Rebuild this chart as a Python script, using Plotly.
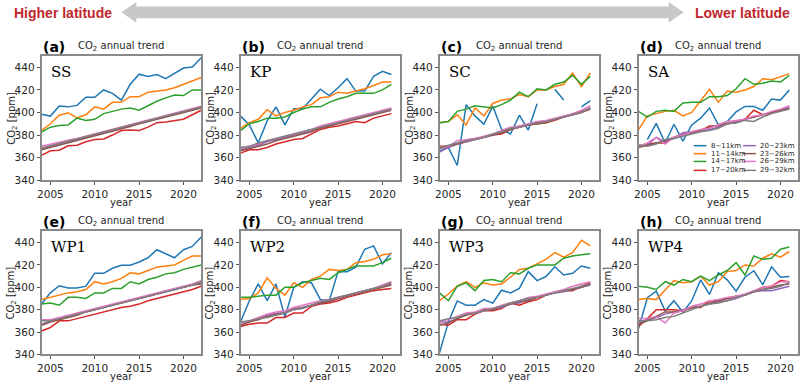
import plotly.graph_objects as go

W, H = 800, 387

# ---------------- data ----------------
years_long = [2004, 2005, 2006, 2007, 2008, 2009, 2010, 2011, 2012, 2013,
              2014, 2015, 2016, 2017, 2018, 2019, 2020, 2021, 2022]
years_short = [2004, 2005, 2006, 2007, 2008, 2009, 2010, 2011, 2012, 2013,
               2014, 2015, 2016, 2017, 2018, 2019, 2020, 2021]

layers = ["8~11km", "11~14km", "14~17km", "17~20km",
          "20~23km", "23~26km", "26~29km", "29~32km"]
colors = ["#1f77b4", "#ff7f0e", "#2ca02c", "#d62728",
          "#9467bd", "#8c564b", "#e377c2", "#7f7f7f"]
panel_tags = ["(a)", "(b)", "(c)", "(d)", "(e)", "(f)", "(g)", "(h)"]
regions = ["SS", "KP", "SC", "SA", "WP1", "WP2", "WP3", "WP4"]
x_ticks = [2005, 2010, 2015, 2020]
y_ticks = [340, 360, 380, 400, 420, 440]

ss_vals = [
    [398.5, 396.8, 405.7, 405, 406.3, 413.5, 413.5, 420, 417, 411, 425, 434, 432, 433.7, 430, 435, 439.4, 440.3, 448.6],
    [384, 390, 397.6, 399.7, 395.3, 398, 405, 403, 409, 409, 414, 414, 418, 419, 420, 422, 425, 428, 431],
    [382.6, 387, 388.4, 389, 395, 393, 394, 399, 401, 403, 404, 402, 406, 410, 413, 415.5, 415, 420, 420],
    [362, 366, 366.5, 370.5, 371, 374, 376, 376.5, 380, 384, 384.5, 384, 387, 391, 391.5, 393, 394, 398, 402],
    [368, 370, 372, 374, 376, 378, 380, 382, 384, 386, 388, 390.5, 392, 394, 396, 398.5, 400.5, 402.5, 404.5],
    [367, 369, 371.5, 373.5, 375.5, 377.5, 379.5, 381.5, 383.5, 385.5, 387.5, 390, 392, 394, 395.5, 398, 400, 402, 404],
    [370, 372, 374, 375.5, 377, 379, 381, 383, 385, 387, 389, 391.5, 393, 395, 397, 399, 401, 403, 405.5],
    [368.5, 370.5, 372.5, 374.5, 376.5, 378.5, 380.5, 382.5, 384.5, 386.5, 388.5, 391, 392.5, 394.5, 396.5, 398.5, 400.5, 403, 405],
]
kp_vals = [
    [396.8, 389, 373, 392.5, 405, 389, 403.4, 403.4, 412, 420.7, 415, 422, 430, 419, 419, 432, 436.5, 433.7],
    [386, 391, 394, 402.5, 397, 400, 402, 405, 407, 413, 414, 418, 417, 419, 421, 424, 427, 427],
    [384, 390, 392, 395, 395, 396, 400, 403, 405, 405, 409, 412, 414, 417, 417, 417, 420, 425],
    [364, 367, 367, 369, 372, 374, 376, 377, 381, 385, 387, 388, 390, 392, 391, 395, 397, 399],
    [367, 369, 371, 374, 376, 378, 380, 382, 384, 387, 389, 391, 393, 395, 397, 399, 401, 403],
    [366, 368, 370, 372, 375, 377, 379, 381, 383, 386, 388, 390, 392, 394, 396, 398, 400, 402],
    [368, 370, 372, 375, 377, 379, 381, 383, 385, 388, 390, 392, 394, 396, 398, 400, 402, 404],
    [369, 370, 373, 375, 377, 379, 381, 383, 385, 387, 389, 391, 393, 395, 397, 399, 401, 403],
]
sc_vals = [
    [366, 369, 353, 407, 397, 389.6, 405.7, 385, 381, 397.6, 384.4, 407.7, None, 420.7, 411, None, 405, 410.6],
    [391, 392, 398, 389, 404, 397, 408, 411, 412, 416, 414, 420, 420, 423, 425, 435, 423, 435],
    [391, 392, 401, 403, 406, 405, 404, 407, 411, 418, 414, 421, 420, 425, 427, 433, 425, 432],
    [370, 370, 372, 374, 376, 378, 380, 381, 385, 387, 389, 390, 391, 393, 396, 398, 400, 403],
    [365, 369, 372, 374, 376, 378, 380, 383, 385, 387, 389, 391, 392, 394, 396, 398, 401, 404],
    [368, 370, 372, 375, 377, 378, 380, 382, 385, 388, 389, 390, 391, 394, 396, 399, 401, 403],
    [369, 370, 375, 376, 377, 379, 381, 384, 387, 388, 390, 392, 393, 395, 397, 399, 402, 406],
    [369, 371, 373, 375, 376, 378, 381, 383, 386, 387, 389, 391, 392, 394, 396, 398, 400, 404],
]
sa_vals = [
    [None, 376, 390.4, 373, 389.6, 374.6, 389, 395, 404, 389, 392, 400.5, 405.4, 405.4, 402, 412, 411, 420],
    [384.7, 397, 399, 401, 402, 397, 400, 410, 420.5, 409, 419, 418, 420, 423, 430, 429, 432, 434.5],
    [401, 396, 401, 402, 401, 408.5, 409, 409, 414, 414, 415, 421, 430, 425, 426, 428, 427, 433],
    [370, 372, 373, 373, 378, 381, 382, 384, 388, 388, 390, 392, 394, 402, 398, 400, 402, 404],
    [371, 371, 378, 374, 377, 382, 383, 384, 385, 387, 390, 392, 394, 396, 398, 400, 402, 405],
    [369, 371, 373, 375, 378, 380, 382, 384, 387, 389, 390, 391, 394, 396, 398, 400, 402, 403],
    [370, 373, 378, 372, 378, 380, 383, 385, 386, 389, 392, 393, 394, 397, 398, 401, 403, 406],
    [371, 370, 372, 376, 377, 379, 381, 383, 384, 386, 390, 391, 393, 392, 396, 399, 401, 403],
]
wp1_vals = [
    [385, 395, 401.4, 399.4, 399.4, 401, 412.5, 412.5, 417, 419.7, 419.7, 422.6, 426.4, 433.6, 430, 426.4, 433.6, 436.5, 445],
    [389, 391, 393, 395, 396, 398, 405, 403, 405, 408, 413, 412, 415, 418, 419, 420, 424, 428, 428],
    [385, 386, 384, 391, 391, 390, 395, 395, 399, 399, 405, 403, 407, 409, 412, 413, 416, 418, 420],
    [361, 364, 370, 370, 372, 374, 376, 378, 380, 382, 383, 385, 388, 390, 392, 394, 396, 398, 401],
    [367, 370, 372, 374, 376, 378, 380, 382, 384, 386, 388, 390, 392, 394, 396, 398, 400, 402, 404],
    [366, 369, 371, 373, 375, 378, 380, 382, 384, 386, 388, 390, 392, 394, 396, 398, 400, 402, 403],
    [371, 371, 373, 375, 377, 379, 381, 383, 385, 387, 389, 391, 393, 395, 397, 399, 401, 403, 406],
    [370, 370, 372, 374, 376, 378, 380, 382, 384, 386, 388, 390, 392, 394, 396, 398, 400, 402, 405],
]
wp2_vals = [
    [369, 388, 403, 388, 403, 373.3, 400, 405, 404, 389, 388, 414, 414, 418, 434, 437, 421, 431],
    [389, 390, 395, 408.5, 399, 393, 404, 400, 407, 410, 416, 415, 416, 422, 423, 425, 429, 430],
    [391, 391, 392, 393, 393, 400, 400, 404, 406, 408, 407, 413, 416, 419, 419, 419, 422, 426],
    [365, 367, 368, 368, 373, 373, 377, 377, 383, 385, 386, 388, 391, 393, 395, 397, 398, 399],
    [366, 370, 372, 375, 377, 377, 380, 381, 384, 386, 388, 390, 392, 395, 397, 399, 401, 403],
    [366, 369, 371, 374, 376, 377, 381, 382, 384, 386, 387, 390, 392, 394, 396, 398, 400, 402],
    [368, 370, 373, 376, 378, 379, 382, 384, 386, 388, 389, 391, 393, 395, 397, 399, 402, 405],
    [369, 370, 372, 373, 375, 377, 380, 382, 384, 387, 389, 391, 393, 395, 397, 399, 401, 404],
]
wp3_vals = [
    [341.4, 369, 387.8, 384, 384, 389, 385.8, 397.4, 395, 399, 414, 406, 409.6, 418.3, 411, 412.5, 419, 417],
    [388, 394, 401, 405, 400, 404, 402, 403, 409, 416, 417, 421, 425, 431, 427, 431, 442, 437],
    [395, 388, 401, 404, 397, 406, 407, 405, 413, 412, 417, 420, 420, 420, 426, 428, 429, 430],
    [367, 366, 371, 371, 376, 379, 379, 381, 386, 384, 387, 389, 393, 395, 397, 397, 401, 404],
    [369, 369, 372, 376, 377, 379, 381, 382, 385, 386, 389, 391, 393, 395, 396, 398, 400, 402],
    [366, 368, 372, 375, 377, 380, 380, 383, 385, 387, 388, 391, 393, 395, 397, 398, 400, 403],
    [370, 371, 374, 377, 378, 381, 381, 384, 386, 388, 391, 392, 394, 396, 398, 401, 403, 405],
    [370, 372, 373, 376, 377, 379, 381, 383, 386, 388, 390, 391, 393, 395, 397, 399, 401, 403],
]
wp4_vals = [
    [363, 390.7, 396.5, 379, 388, 377.7, 388, 406.7, 393.6, 413, 406.7, 396.5, 409, 414.8, 402.3, 418.3, 409, 409.6],
    [389, 390, 389, 398, 406, 404, 405, 410, 402, 405, 414, 415, 420, 419, 426, 430, 427, 432],
    [401, 400, 398, 405, 402, 407, 405, 410, 406, 411, 415, 422, 411, 428, 425, 426, 434, 436],
    [365, 372, 380, 380, 380, 379, 382, 382, 388, 388, 390, 392, 393, 396, 400, 401, 406, 405],
    [369, 371, 373, 376, 378, 380, 382, 383, 385, 387, 388, 390, 393, 396, 397, 397, 399, 401],
    [367, 370, 374, 378, 378, 379, 382, 383, 386, 388, 390, 392, 393, 396, 398, 400, 402, 403],
    [372, 372, 374, 368, 377, 379, 383, 385, 388, 389, 391, 392, 394, 397, 400, 401, 405, 405],
    [370, 370, 371, 373, 374, 377, 380, 383, 385, 386, 388, 391, 393, 396, 398, 399, 401, 404],
]

panel_values = [ss_vals, kp_vals, sc_vals, sa_vals, wp1_vals, wp2_vals, wp3_vals, wp4_vals]
panel_years = [years_long, years_short, years_short, years_short,
               years_long, years_short, years_short, years_short]

# ---------------- layout geometry (pixels) ----------------
col_left = [37.7, 237.7, 437.7, 637.7]
plot_w = 160.5
row_top = [57.0, 235.0]
row_bot = [183.0, 360.0]
year_gap = [23.0, 22.0]

TXT = "#262626"
SPINE = "#8a8a8a"


def px(xp):
    return xp / W


def py(yp):
    return 1 - yp / H


fig = go.Figure()
layout = dict(
    width=W, height=H,
    margin=dict(l=0, r=0, t=0, b=0),
    paper_bgcolor="white", plot_bgcolor="white",
    font=dict(family="DejaVu Sans", size=11, color=TXT),
    showlegend=False,
)
annotations = []
shapes = []

for i in range(8):
    r, c = divmod(i, 4)
    ax = "" if i == 0 else str(i + 1)
    x0 = col_left[c]
    x1 = x0 + plot_w
    top, bot = row_top[r], row_bot[r]
    for k in range(8):
        fig.add_trace(go.Scatter(
            x=panel_years[i], y=panel_values[i][k], mode="lines",
            name=layers[k], line=dict(color=colors[k], width=1.5),
            xaxis="x" + ax, yaxis="y" + ax, connectgaps=False,
            hoverinfo="skip"))
    common = dict(showline=True, mirror=True, linecolor=SPINE, linewidth=1.5,
                  showgrid=False, zeroline=False, ticks="outside", ticklen=3,
                  tickwidth=1, tickcolor="#555555",
                  tickfont=dict(size=10.5, color=TXT))
    layout["xaxis" + ax] = dict(domain=[px(x0), px(x1)], anchor="y" + ax,
                                range=[2004, 2022], tickvals=x_ticks, **common)
    layout["yaxis" + ax] = dict(domain=[py(bot), py(top)], anchor="x" + ax,
                                range=[340, 450], tickvals=y_ticks, **common)
    # panel tag and title
    annotations.append(dict(text="<b>" + panel_tags[i] + "</b>", xref="paper", yref="paper",
                            x=px(x0 - 1), y=py(top - 9.5), xanchor="left", yanchor="middle",
                            showarrow=False, font=dict(size=14, color="black")))
    annotations.append(dict(text="CO<sub>2</sub> annual trend", xref="paper", yref="paper",
                            x=px((x0 + x1) / 2), y=py(top - 10), xanchor="center",
                            yanchor="middle", showarrow=False, font=dict(size=10, color=TXT)))
    annotations.append(dict(text=regions[i], xref="paper", yref="paper",
                            x=px(x0 + 8), y=py(top + 16), xanchor="left", yanchor="middle",
                            showarrow=False,
                            font=dict(family="DejaVu Serif", size=15, color="black")))
    annotations.append(dict(text="CO<sub>2</sub> [ppm]", xref="paper", yref="paper",
                            x=px(x0 - 30), y=py((top + bot) / 2), xanchor="center",
                            yanchor="middle", textangle=-90, showarrow=False,
                            font=dict(size=10, color=TXT)))
    annotations.append(dict(text="year", xref="paper", yref="paper",
                            x=px((x0 + x1) / 2), y=py(bot + year_gap[r]), xanchor="center",
                            yanchor="middle", showarrow=False, font=dict(size=10, color=TXT)))

# legend inside panel (d), drawn in its domain coordinates
leg_cols = [(0.345, 0.425, 0.44), (0.655, 0.735, 0.75)]
leg_rows = [0.278, 0.214, 0.151, 0.079]
for k in range(8):
    cx = leg_cols[k // 4]
    ry = leg_rows[k % 4]
    shapes.append(dict(type="line", xref="x4 domain", yref="y4 domain",
                       x0=cx[0], x1=cx[1], y0=ry, y1=ry,
                       line=dict(color=colors[k], width=1.5)))
    annotations.append(dict(text=layers[k], xref="x4 domain", yref="y4 domain",
                            x=cx[2], y=ry, xanchor="left", yanchor="middle",
                            showarrow=False, font=dict(size=7, color=TXT)))

# header: double arrow and latitude labels
pts = [(118, 12.5), (133, 2), (133, 6.5), (668, 6.5), (668, 2), (683, 12.5),
       (668, 23), (668, 18.5), (133, 18.5), (133, 23)]
path = "M " + " L ".join(f"{px(a):.5f},{py(b):.5f}" for a, b in pts) + " Z"
shapes.append(dict(type="path", xref="paper", yref="paper", path=path,
                   fillcolor="#c8c8c8", line=dict(width=0)))
annotations.append(dict(text="<b>Higher latitude</b>", xref="paper", yref="paper",
                        x=px(8), y=py(13), xanchor="left", yanchor="middle", showarrow=False,
                        font=dict(family="Liberation Sans", size=14, color="#c0272d")))
annotations.append(dict(text="<b>Lower latitude</b>", xref="paper", yref="paper",
                        x=px(692), y=py(13), xanchor="left", yanchor="middle", showarrow=False,
                        font=dict(family="Liberation Sans", size=14, color="#c0272d")))

layout["annotations"] = annotations
layout["shapes"] = shapes
fig.update_layout(**layout)
fig.write_html("out.html", config={"displayModeBar": False},
               post_script="document.body.style.margin='0';document.body.style.padding='0';")
